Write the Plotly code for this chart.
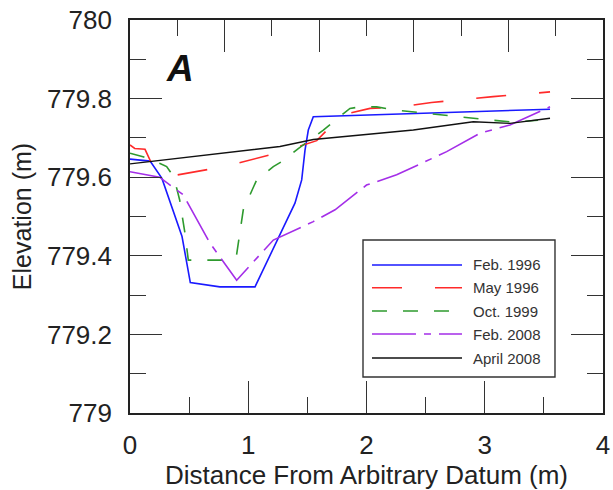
import plotly.graph_objects as go

# ---- data ----
feb1996_x = [0.0, 0.17, 0.27, 0.44, 0.51, 0.76, 1.057, 1.24, 1.395, 1.452, 1.48, 1.508, 1.55, 3.552]
feb1996_y = [779.646, 779.641, 779.597, 779.449, 779.332, 779.321, 779.321, 779.436, 779.534, 779.593, 779.669, 779.72, 779.754, 779.773]

may1996_x = [0.0, 0.04, 0.127, 0.175, 0.31, 0.818, 1.336, 1.579, 1.79, 2.03, 2.28, 2.55, 3.07, 3.552]
may1996_y = [779.682, 779.673, 779.671, 779.64, 779.601, 779.628, 779.669, 779.693, 779.758, 779.775, 779.779, 779.79, 779.805, 779.817]

oct1999_x = [0.0, 0.11, 0.254, 0.31, 0.34, 0.395, 0.42, 0.465, 0.493, 0.775, 0.90, 0.958, 1.071, 1.212, 1.297, 1.423, 1.635, 1.86, 1.945, 2.086, 2.24, 2.48, 2.75, 3.03, 3.256, 3.45]
oct1999_y = [779.661, 779.652, 779.635, 779.627, 779.614, 779.572, 779.542, 779.457, 779.389, 779.389, 779.40, 779.517, 779.593, 779.627, 779.642, 779.673, 779.72, 779.775, 779.779, 779.779, 779.771, 779.763, 779.754, 779.746, 779.74, 779.745]

feb2008_x = [0.0, 0.25, 0.451, 0.677, 0.902, 1.043, 1.212, 1.55, 1.734, 2.0, 2.255, 2.678, 2.96, 3.213, 3.552]
feb2008_y = [779.614, 779.6, 779.555, 779.432, 779.338, 779.385, 779.44, 779.487, 779.517, 779.58, 779.606, 779.665, 779.712, 779.733, 779.779]

apr2008_x = [0.0, 1.268, 1.55, 2.396, 2.903, 3.213, 3.552]
apr2008_y = [779.634, 779.678, 779.696, 779.72, 779.741, 779.737, 779.75]

series_names = ["Feb. 1996", "May 1996", "Oct. 1999", "Feb. 2008", "April 2008"]
x_ticks = [0, 1, 2, 3, 4]
y_ticks = [779, 779.2, 779.4, 779.6, 779.8, 780]
y_ticklabels = ["779", "779.2", "779.4", "779.6", "779.8", "780"]

# ---- styles ----
colors = ["#1a1aff", "#ff2a2a", "#2e9a2e", "#a42ee8", "#111111"]
dashes = ["solid", "30px,33px", "15px,16px", "44px,8px,7px,8px", "solid"]
widths = [1.6, 1.6, 1.6, 1.6, 1.4]
xs = [feb1996_x, may1996_x, oct1999_x, feb2008_x, apr2008_x]
ys = [feb1996_y, may1996_y, oct1999_y, feb2008_y, apr2008_y]

FONT = "Liberation Sans, Arial, sans-serif"
fig = go.Figure()

for name, x, y, c, d, w in zip(series_names, xs, ys, colors, dashes, widths):
    fig.add_trace(go.Scatter(x=x, y=y, mode="lines", name=name, showlegend=False,
                             line=dict(color=c, dash=d, width=w)))

# helper trace for the top/right tick axes
fig.add_trace(go.Scatter(x=[None], y=[None], xaxis="x2", yaxis="y2", showlegend=False,
                         hoverinfo="skip"))

axis_line = dict(showline=True, linecolor="#222", linewidth=1.6, showgrid=False, zeroline=False,
                 automargin=False)
tick_main = dict(ticks="inside", ticklen=32, tickwidth=1.4, tickcolor="#333")
minor_y = dict(dtick=0.1, ticks="inside", ticklen=16, tickwidth=1.4, tickcolor="#333")
minor_x = dict(dtick=0.5, ticks="inside", ticklen=16, tickwidth=1.4, tickcolor="#333")

fig.update_layout(
    width=613, height=490,
    margin=dict(l=130, r=10, t=20, b=77, autoexpand=False),
    paper_bgcolor="white", plot_bgcolor="white",
    font=dict(family=FONT, color="#222"),
    xaxis=dict(range=[0, 4], tickvals=x_ticks, ticktext=[str(v) for v in x_ticks],
               minor=minor_x, tickfont=dict(size=26, family=FONT, color="#222"),
               ticklabelstandoff=8,
               title=dict(text="Distance From Arbitrary Datum (m)",
                          font=dict(size=26, family=FONT, color="#222"), standoff=1),
               mirror=True, **tick_main, **axis_line),
    yaxis=dict(range=[779, 780], tickvals=y_ticks, ticktext=y_ticklabels,
               minor=minor_y, tickfont=dict(size=26, family=FONT, color="#222"),
               ticklabelstandoff=11,
               title=dict(text="Elevation (m)",
                          font=dict(size=25, family=FONT, color="#222"), standoff=8),
               mirror=True, **tick_main, **axis_line),
    xaxis2=dict(range=[0, 5], overlaying="x", side="top", anchor="y", dtick=1,
                showticklabels=False, minor=minor_x, showgrid=False, zeroline=False,
                showline=False, automargin=False, **tick_main),
    yaxis2=dict(range=[779, 780], overlaying="y", side="right", anchor="x", dtick=0.2,
                showticklabels=False, minor=minor_y, showgrid=False, zeroline=False,
                showline=False, automargin=False, **tick_main),
)

# panel label
fig.add_annotation(text="<b><i>A</i></b>", xref="paper", yref="paper", x=0.106, y=0.876,
                   showarrow=False, font=dict(size=37, family=FONT, color="#111"),
                   xanchor="center", yanchor="middle")

# hand-drawn legend box (long line samples as in the reference)
fig.add_shape(type="rect", xref="paper", yref="paper", x0=0.4926, x1=0.8985, y0=0.0916, y1=0.4402,
              line=dict(color="#333", width=1.4), fillcolor="white", layer="above")
entry_y = [0.3766, 0.3188, 0.2595, 0.2010, 0.1399]
for name, c, d, w, ey in zip(series_names, colors, dashes, widths, entry_y):
    fig.add_shape(type="line", xref="paper", yref="paper", x0=0.5116, x1=0.7019, y0=ey, y1=ey,
                  line=dict(color=c, dash=d, width=w), layer="above")
    fig.add_annotation(text=name, xref="paper", yref="paper", x=0.7209, y=ey, showarrow=False,
                       xanchor="left", yanchor="middle",
                       font=dict(size=15, family=FONT, color="#333"))

fig.write_html("out.html", config={"displayModeBar": False},
               post_script="document.body.style.margin='0px';document.body.style.overflow='hidden';")
